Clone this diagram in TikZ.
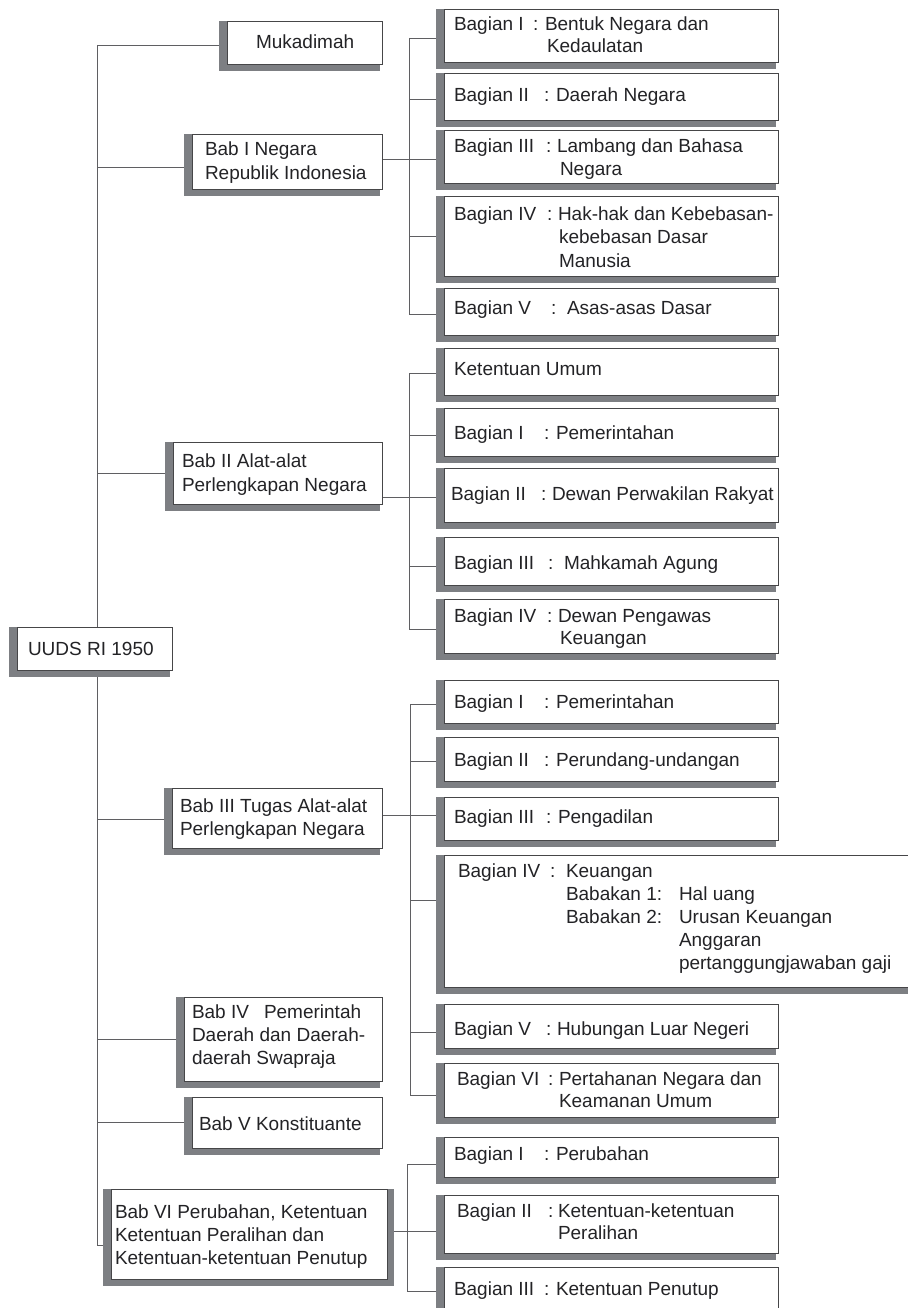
\documentclass[tikz,border=0pt]{standalone}
\usepackage{fontspec}
\setmainfont{Liberation Sans}
\pgfdeclarelayer{bg}
\pgfsetlayers{bg,main}
\definecolor{shd}{RGB}{125,127,131}
\definecolor{bord}{RGB}{70,70,72}
\definecolor{conn}{RGB}{95,95,98}
\definecolor{ink}{RGB}{35,35,38}
\newcounter{tc}
\newcommand\bx[5]{\fill[shd] ({#2-8},{#3}) rectangle ({#4-2},{#5+7});
  \node[bxs,minimum width={#4pt-#2pt},minimum height={#5pt-#3pt}] (#1) at ({(#2+#4)/2},{(#3+#5)/2}) {};}
\newcommand\tx[3]{\stepcounter{tc}\node[txt] (t\arabic{tc}) at (#1,#2) {#3};}
\newcommand\ch[3]{\coordinate (k#2) at ([yshift=#3pt]#2.west); \draw[cn] (#1 |- k#2) -- ([xshift=-8pt]k#2);}
\begin{document}
\begin{tikzpicture}[x=1pt,y=-1pt,
  bxs/.style={draw=bord,fill=white,line width=0.8pt,inner sep=0pt,outer sep=0pt,rectangle},
  txt/.style={anchor=base west,inner sep=0pt,outer sep=0pt,text=ink,font=\fontsize{19}{23}\selectfont},
  cn/.style={draw=conn,line width=0.8pt}]
\useasboundingbox (0,0) rectangle (907,1308);
% ---------- boxes ----------
\bx{muk}{227}{21}{382}{64}
\bx{bab1}{192}{134}{382}{189}
\bx{c11}{444}{9}{778}{62}
\bx{c12}{444}{73}{778}{120}
\bx{c13}{444}{130}{778}{183}
\bx{c14}{444}{196}{778}{276}
\bx{c15}{444}{288}{778}{335}
\bx{bab2}{173}{442}{382}{504}
\bx{c21}{444}{348}{778}{395}
\bx{c22}{444}{408}{778}{456}
\bx{c23}{444}{468}{778}{522}
\bx{c24}{444}{537}{778}{585}
\bx{c25}{444}{599}{778}{653}
\bx{uuds}{17}{627}{172}{670}
\bx{bab3}{172}{788}{382}{848}
\bx{c31}{444}{680}{778}{723}
\bx{c32}{444}{737}{778}{781}
\bx{c33}{444}{797}{778}{840}
\bx{c34}{444}{855}{914}{987}
\bx{c35}{444}{1004}{778}{1048}
\bx{c36}{444}{1063}{778}{1117}
\bx{bab4}{184}{997}{382}{1081}
\bx{bab5}{192}{1097}{382}{1148}
\fill[shd] (104,1189) rectangle (394,1286);
\bx{bab6}{111}{1189}{387}{1279}
\bx{c61}{444}{1137}{778}{1177}
\bx{c62}{444}{1195}{778}{1253}
\bx{c63}{444}{1267}{778}{1322}
% ---------- texts ----------
\tx{256}{49}{Mukadimah}
\tx{205}{156}{Bab I Negara}
\tx{205}{179}{Republik Indonesia}
\tx{454}{31}{Bagian I}\tx{533}{31}{:}\tx{545}{31}{Bentuk Negara dan}
\tx{547}{53}{Kedaulatan}
\tx{454}{102}{Bagian II}\tx{544}{102}{:}\tx{556}{102}{Daerah Negara}
\tx{454}{153}{Bagian III}\tx{546}{153}{:}\tx{557}{153}{Lambang dan Bahasa}
\tx{560}{176}{Negara}
\tx{454}{220}{Bagian IV}\tx{547}{220}{:}\tx{558}{220}{Hak-hak dan Kebebasan-}
\tx{559}{243}{kebebasan Dasar}
\tx{559}{267}{Manusia}
\tx{454}{314}{Bagian V}\tx{551}{314}{:}\tx{567}{314}{Asas-asas Dasar}
\tx{454}{375}{Ketentuan Umum}
\tx{454}{439}{Bagian I}\tx{544}{439}{:}\tx{556}{439}{Pemerintahan}
\tx{451}{500}{Bagian II}\tx{541}{500}{:}\tx{552}{500}{Dewan Perwakilan Rakyat}
\tx{454}{569}{Bagian III}\tx{548}{569}{:}\tx{564}{569}{Mahkamah Agung}
\tx{454}{622}{Bagian IV}\tx{547}{622}{:}\tx{558}{622}{Dewan Pengawas}
\tx{560}{644}{Keuangan}
\tx{28}{655}{UUDS RI 1950}
\tx{182}{467}{Bab II Alat-alat}
\tx{182}{491}{Perlengkapan Negara}
\tx{180}{812}{Bab III Tugas Alat-alat}
\tx{180}{835}{Perlengkapan Negara}
\tx{454}{708}{Bagian I}\tx{544}{708}{:}\tx{556}{708}{Pemerintahan}
\tx{454}{766}{Bagian II}\tx{544}{766}{:}\tx{556}{766}{Perundang-undangan}
\tx{454}{823}{Bagian III}\tx{546}{823}{:}\tx{558}{823}{Pengadilan}
\tx{458}{877}{Bagian IV}\tx{550}{877}{:}\tx{566}{877}{Keuangan}
\tx{566}{900}{Babakan 1:}\tx{679}{900}{Hal uang}
\tx{566}{923}{Babakan 2:}\tx{679}{923}{Urusan Keuangan}
\tx{679}{946}{Anggaran}
\tx{679}{969}{pertanggungjawaban gaji}
\tx{454}{1035}{Bagian V}\tx{546}{1035}{:}\tx{557}{1035}{Hubungan Luar Negeri}
\tx{457}{1085}{Bagian VI}\tx{548}{1085}{:}\tx{559}{1085}{Pertahanan Negara dan}
\tx{559}{1107}{Keamanan Umum}
\tx{192}{1018}{Bab IV}\tx{264}{1018}{Pemerintah}
\tx{192}{1041}{Daerah dan Daerah-}
\tx{192}{1064}{daerah Swapraja}
\tx{199}{1130}{Bab V Konstituante}
\tx{115}{1218}{Bab VI Perubahan, Ketentuan}
\tx{115}{1241}{Ketentuan Peralihan dan}
\tx{115}{1264}{Ketentuan-ketentuan Penutup}
\tx{454}{1160}{Bagian I}\tx{544}{1160}{:}\tx{556}{1160}{Perubahan}
\tx{457}{1217}{Bagian II}\tx{548}{1217}{:}\tx{558}{1217}{Ketentuan-ketentuan}
\tx{558}{1239}{Peralihan}
\tx{454}{1295}{Bagian III}\tx{544}{1295}{:}\tx{556}{1295}{Ketentuan Penutup}
% ---------- connectors ----------
\begin{pgfonlayer}{bg}
\coordinate (tr) at (97,0);
\coordinate (b1) at (409,0);
\coordinate (b2) at (409,0);
\coordinate (b3) at (410,0);
\coordinate (b6) at (407,0);
% trunk
\ch{tr}{muk}{-2.5}
\ch{tr}{bab1}{-5.5}
\ch{tr}{bab2}{0}
\ch{tr}{bab3}{-1}
\ch{tr}{bab4}{0}
\ch{tr}{bab5}{0.5}
\ch{tr}{bab6}{-11}
\draw[cn] (tr |- kmuk) -- (tr |- kbab6);
% Bab I
\coordinate (p1) at ([yshift=2.5pt]bab1.east);
\draw[cn] (p1) -- (b1 |- p1);
\ch{b1}{c11}{-2.5}
\ch{b1}{c12}{-2.5}
\ch{b1}{c13}{-2.5}
\ch{b1}{c14}{0}
\ch{b1}{c15}{-2.5}
\draw[cn] (b1 |- kc11) -- (b1 |- kc15);
% Bab II
\coordinate (p2) at ([yshift=-24pt]bab2.east);
\draw[cn] (p2) -- (b2 |- p2);
\ch{b2}{c21}{-1.5}
\ch{b2}{c22}{-3}
\ch{b2}{c23}{-2}
\ch{b2}{c24}{-5}
\ch{b2}{c25}{-3}
\draw[cn] (b2 |- kc21) -- (b2 |- kc25);
% Bab III
\coordinate (p3) at ([yshift=3pt]bab3.east);
\draw[cn] (p3) -- (b3 |- p3);
\ch{b3}{c31}{-2.5}
\ch{b3}{c32}{-2}
\ch{b3}{c33}{3.5}
\ch{b3}{c34}{21}
\ch{b3}{c35}{-6}
\ch{b3}{c36}{-5}
\draw[cn] (b3 |- kc31) -- (b3 |- kc36);
% Bab VI
\coordinate (p6) at ([yshift=3pt]bab6.east);
\draw[cn] (p6) -- (b6 |- p6);
\ch{b6}{c61}{-7}
\ch{b6}{c62}{-7}
\ch{b6}{c63}{3.5}
\draw[cn] (b6 |- kc61) -- (b6 |- kc63);
\end{pgfonlayer}
\end{tikzpicture}
\end{document}
